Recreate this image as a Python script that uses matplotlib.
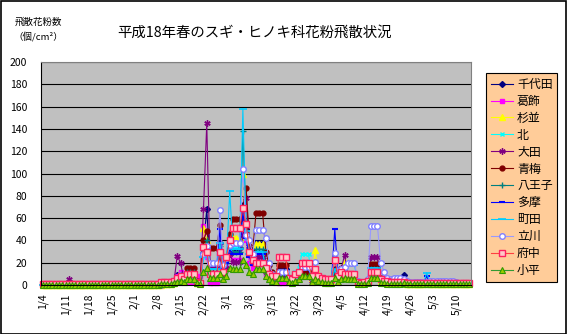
import matplotlib
matplotlib.use("Agg")
import matplotlib.pyplot as plt
from matplotlib.patches import Rectangle

plt.rcParams['font.family'] = ['Noto Sans CJK JP', 'DejaVu Sans']

# Daily airborne pollen counts (grains/cm2), 2006-01-04 .. 2006-05-14
tick_labels = ['1/4', '1/11', '1/18', '1/25', '2/1', '2/8', '2/15', '2/22', '3/1',
               '3/8', '3/15', '3/22', '3/29', '4/5', '4/12', '4/19', '4/26', '5/3', '5/10']

chiyoda = [0, 0, 0, 0, 0, 0, 0, 0, 0, 0, 0, 0, 0, 0, 0, 0, 0, 0, 0, 0, 0,
           0, 0, 0, 0, 0, 0, 0, 0, 0, 0, 0, 0, 0, 0,
           0, 0, 1, 1, 1, 3, 9,
           8, 4, 6, 6, 6, 3, 2,
           35, 68, 18, 18, 18, 38, 14,
           22, 40, 33, 33, 33, 72, 50,
           32, 24, 38, 38, 38, 20, 12,
           9, 6, 14, 14, 14, 6, 5,
           8, 10, 16, 16, 16, 7, 12,
           8, 6, 5, 5, 5, 14, 7,
           10, 10, 9, 9, 9, 3, 2,
           3, 4, 16, 16, 16, 5, 4,
           4, 3, 3, 3, 3, 9, 2,
           1, 1, 1, 1, 1, 2, 1,
           1, 1, 1, 1, 1, 1, 1,
           1, 1, 1, 1, 1]
katsushika = [0, 0, 0, 0, 0, 0, 0, 0, 0, 0, 0, 0, 0, 0, 0, 0, 0, 0, 0, 0, 0,
              0, 0, 0, 0, 0, 0, 0, 0, 0, 0, 0, 0, 0, 0,
              0, 1, 2, 2, 2, 4, 8,
              12, 5, 3, 3, 3, 2, 8,
              53, 25, 2, 2, 2, 20, 10,
              18, 30, 22, 22, 22, 45, 40,
              20, 15, 28, 28, 28, 10, 6,
              4, 3, 2, 2, 2, 3, 5,
              6, 8, 12, 12, 12, 3, 9,
              5, 4, 3, 3, 3, 10, 5,
              8, 9, 8, 8, 8, 2, 1,
              2, 3, 10, 10, 10, 3, 3,
              2, 2, 2, 2, 2, 3, 1,
              1, 1, 1, 1, 1, 1, 1,
              1, 1, 1, 1, 1, 1, 1,
              1, 1, 1, 1, 1]
suginami = [0, 0, 0, 0, 0, 0, 0, 0, 0, 0, 0, 0, 0, 0, 0, 0, 0, 0, 0, 0, 0,
            0, 0, 0, 0, 0, 0, 0, 0, 0, 0, 0, 0, 0, 0,
            0, 0, 1, 1, 1, 2, 5,
            8, 5, 5, 5, 5, 2, 3,
            51, 40, 14, 14, 14, 30, 16,
            25, 38, 42, 42, 42, 100, 45,
            30, 22, 37, 37, 37, 18, 10,
            8, 6, 12, 12, 12, 5, 4,
            9, 10, 15, 15, 15, 6, 31,
            10, 6, 4, 4, 4, 12, 6,
            12, 21, 9, 9, 9, 2, 2,
            2, 4, 13, 13, 13, 4, 3,
            3, 2, 2, 2, 2, 3, 1,
            1, 1, 1, 1, 1, 2, 1,
            1, 1, 1, 1, 1, 1, 1,
            1, 1, 1, 1, 1]
kita = [0, 0, 0, 0, 0, 0, 0, 0, 0, 0, 0, 0, 0, 0, 0, 0, 0, 0, 0, 0, 0,
        0, 0, 0, 0, 0, 0, 0, 0, 0, 0, 0, 0, 0, 0,
        0, 0, 1, 1, 1, 2, 6,
        10, 5, 6, 6, 6, 2, 3,
        25, 30, 12, 12, 12, 28, 12,
        20, 32, 35, 35, 35, 60, 42,
        28, 20, 30, 30, 30, 15, 8,
        7, 5, 10, 10, 10, 4, 4,
        12, 15, 28, 28, 28, 6, 12,
        7, 5, 4, 4, 4, 12, 6,
        10, 9, 8, 8, 8, 3, 2,
        2, 3, 12, 12, 12, 4, 3,
        3, 2, 2, 2, 2, 2, 1,
        1, 1, 1, 1, 1, 1, 1,
        1, 1, 1, 1, 1, 1, 1,
        1, 1, 1, 1, 1]
ota = [0, 0, 0, 0, 0, 0, 0, 0, 5, 0, 0, 0, 0, 0, 0, 0, 0, 0, 0, 0, 0,
       0, 0, 0, 0, 0, 0, 0, 0, 0, 0, 0, 0, 0, 0,
       0, 0, 1, 1, 1, 3, 26,
       20, 6, 5, 5, 5, 2, 3,
       68, 145, 16, 16, 16, 25, 10,
       15, 28, 21, 21, 21, 45, 78,
       35, 20, 25, 25, 25, 12, 8,
       6, 5, 8, 8, 8, 4, 3,
       6, 8, 10, 10, 10, 4, 10,
       6, 5, 4, 4, 4, 10, 12,
       15, 27, 8, 8, 8, 2, 1,
       2, 3, 25, 25, 25, 5, 4,
       3, 2, 2, 2, 2, 3, 1,
       1, 1, 1, 1, 1, 1, 1,
       1, 1, 1, 1, 1, 1, 1,
       1, 1, 1, 1, 1]
ome = [0, 0, 0, 0, 0, 0, 0, 0, 0, 0, 0, 0, 0, 0, 0, 0, 0, 0, 0, 1, 0,
       0, 0, 0, 0, 0, 0, 0, 0, 0, 0, 0, 0, 0, 0,
       0, 0, 1, 1, 1, 2, 5,
       8, 5, 15, 15, 15, 4, 3,
       40, 48, 33, 33, 33, 54, 20,
       25, 46, 59, 59, 59, 70, 87,
       40, 30, 65, 65, 65, 30, 18,
       12, 8, 18, 18, 18, 6, 4,
       5, 6, 12, 12, 12, 5, 8,
       5, 5, 5, 5, 5, 10, 6,
       8, 10, 8, 8, 8, 2, 2,
       3, 4, 19, 19, 19, 6, 4,
       3, 2, 2, 2, 2, 3, 1,
       1, 1, 1, 1, 1, 1, 1,
       1, 1, 1, 1, 1, 1, 1,
       1, 1, 1, 1, 1]
hachioji = [0, 0, 0, 0, 0, 0, 0, 0, 0, 0, 0, 0, 0, 0, 0, 0, 0, 0, 0, 0, 0,
            0, 0, 0, 0, 0, 0, 0, 0, 0, 0, 0, 0, 0, 0,
            0, 0, 1, 1, 1, 2, 6,
            9, 5, 12, 12, 12, 3, 3,
            30, 40, 20, 20, 20, 35, 16,
            20, 38, 30, 30, 30, 138, 55,
            30, 22, 32, 32, 32, 16, 10,
            8, 6, 12, 12, 12, 5, 4,
            8, 10, 20, 20, 20, 6, 10,
            7, 5, 4, 4, 4, 12, 6,
            10, 12, 10, 10, 10, 3, 2,
            2, 3, 14, 14, 14, 5, 3,
            3, 2, 2, 2, 2, 3, 1,
            1, 1, 1, 1, 1, 1, 1,
            1, 1, 1, 1, 1, 1, 1,
            1, 1, 1, 1, 1]
tama = [0, 0, 0, 0, 0, 0, 0, 0, 0, 0, 0, 0, 0, 0, 0, 0, 0, 0, 0, 0, 0,
        0, 0, 0, 0, 0, 0, 0, 0, 0, 0, 0, 0, 0, 0,
        0, 0, 1, 1, 1, 2, 5,
        7, 4, 6, 6, 6, 2, 2,
        28, 35, 10, 10, 10, 50, 14,
        20, 32, 28, 28, 28, 65, 42,
        25, 18, 28, 28, 28, 14, 9,
        7, 5, 9, 9, 9, 4, 3,
        7, 9, 14, 14, 14, 5, 10,
        7, 6, 4, 4, 4, 50, 8,
        9, 8, 9, 9, 9, 2, 2,
        2, 3, 12, 12, 12, 4, 3,
        3, 2, 2, 2, 2, 4, 1,
        1, 1, 1, 1, 1, 8, 1,
        1, 1, 1, 1, 1, 1, 1,
        1, 1, 1, 1, 1]
machida = [0, 0, 0, 0, 0, 0, 0, 0, 0, 0, 0, 0, 0, 0, 0, 0, 0, 0, 0, 0, 0,
           0, 0, 0, 0, 0, 0, 0, 0, 0, 0, 0, 0, 0, 0,
           0, 0, 1, 1, 1, 2, 4,
           6, 4, 8, 8, 8, 2, 2,
           25, 32, 14, 14, 14, 38, 12,
           22, 84, 32, 32, 32, 158, 48,
           28, 20, 30, 30, 30, 14, 9,
           7, 5, 10, 10, 10, 4, 3,
           8, 10, 18, 18, 18, 6, 9,
           6, 5, 4, 4, 4, 14, 6,
           10, 9, 18, 18, 18, 3, 2,
           2, 3, 15, 15, 15, 5, 3,
           3, 2, 2, 2, 2, 3, 1,
           1, 1, 1, 1, 1, 11, 2,
           1, 1, 1, 1, 1, 1, 1,
           1, 1, 1, 1, 1]
tachikawa = [0, 0, 0, 0, 0, 0, 0, 0, 0, 0, 0, 0, 0, 0, 0, 0, 0, 0, 0, 0, 0,
             0, 0, 0, 0, 0, 0, 0, 0, 0, 0, 0, 0, 0, 0,
             0, 0, 1, 1, 1, 2, 5,
             8, 4, 8, 8, 8, 3, 2,
             28, 35, 20, 20, 20, 67, 18,
             24, 36, 38, 38, 38, 104, 45,
             40, 28, 49, 49, 49, 42, 20,
             10, 7, 12, 12, 12, 5, 4,
             8, 10, 16, 16, 16, 6, 21,
             8, 6, 5, 5, 5, 29, 10,
             14, 16, 20, 20, 20, 4, 3,
             3, 5, 53, 53, 53, 20, 12,
             6, 5, 6, 6, 6, 5, 4,
             3, 3, 3, 3, 3, 3, 4,
             4, 4, 4, 4, 4, 4, 4,
             3, 2, 2, 2, 2]
fuchu = [1, 1, 1, 1, 1, 1, 1, 1, 1, 1, 1, 1, 1, 1, 1, 1, 1, 1, 1, 1, 1,
         1, 1, 1, 1, 1, 1, 1, 1, 1, 1, 1, 1, 1, 1,
         1, 3, 3, 3, 3, 4, 6,
         8, 5, 10, 10, 10, 3, 2,
         34, 30, 10, 10, 10, 30, 12,
         25, 40, 51, 51, 51, 69, 55,
         30, 22, 20, 20, 20, 15, 10,
         8, 8, 25, 25, 25, 6, 5,
         10, 12, 20, 20, 20, 8, 14,
         8, 6, 5, 5, 5, 22, 8,
         12, 10, 10, 10, 10, 3, 2,
         3, 4, 12, 12, 12, 5, 4,
         4, 3, 3, 3, 3, 3, 2,
         2, 2, 2, 2, 2, 2, 2,
         2, 2, 2, 2, 2, 2, 2,
         2, 2, 2, 2, 2]
kodaira = [0, 0, 0, 0, 0, 0, 0, 0, 0, 0, 0, 0, 0, 0, 0, 0, 0, 0, 0, 0, 0,
           0, 0, 0, 0, 0, 0, 0, 0, 0, 0, 0, 0, 0, 0,
           0, 1, 1, 1, 1, 2, 3,
           4, 3, 5, 5, 5, 2, 1,
           12, 15, 6, 6, 6, 10, 5,
           8, 15, 14, 14, 14, 22, 18,
           12, 10, 14, 14, 14, 8, 5,
           4, 3, 6, 6, 6, 3, 2,
           4, 5, 8, 8, 8, 3, 5,
           4, 3, 2, 2, 2, 6, 3,
           5, 6, 5, 5, 5, 1, 1,
           1, 2, 6, 6, 6, 2, 2,
           1, 1, 1, 1, 1, 2, 1,
           1, 1, 1, 1, 1, 1, 1,
           1, 1, 1, 1, 1, 1, 1,
           1, 1, 1, 1, 1]

series = [
    ('千代田', chiyoda,   dict(color='#000080', marker='D', ms=3, mfc='#000080', mec='#000080')),
    ('葛飾',   katsushika, dict(color='#FF00FF', marker='s', ms=3.5, mfc='#FF00FF', mec='#FF00FF')),
    ('杉並',   suginami,  dict(color='#FFFF00', marker='^', ms=4, mfc='#FFFF00', mec='#FFFF00')),
    ('北',     kita,      dict(color='#00FFFF', marker='x', ms=3.5, mew=1, mec='#00FFFF')),
    ('大田',   ota,       dict(color='#800080', marker=(6, 2, 0), ms=4.5, mew=1, mec='#800080')),
    ('青梅',   ome,       dict(color='#800000', marker='o', ms=3.5, mfc='#800000', mec='#800000')),
    ('八王子', hachioji,  dict(color='#008080', marker='+', ms=4, mew=1, mec='#008080')),
    ('多摩',   tama,      dict(color='#0000FF', marker='_', ms=4, mew=1.5, mec='#0000FF')),
    ('町田',   machida,   dict(color='#00CCFF', marker='_', ms=6, mew=1.2, mec='#00CCFF')),
    ('立川',   tachikawa, dict(color='#9999FF', marker='o', ms=4, mfc='white', mec='#8080FF', mew=1)),
    ('府中',   fuchu,     dict(color='#FF4040', marker='s', ms=4, mfc='#FFC8C8', mec='#FF2060', mew=1)),
    ('小平',   kodaira,   dict(color='#339933', marker='^', ms=4, mfc='#99CC00', mec='#339900', mew=0.8)),
]

W, H = 567, 334
fig = plt.figure(figsize=(W / 100, H / 100), dpi=100)
fig.patch.set_facecolor('white')
fig.patches.append(Rectangle((0.5 / W, 0.5 / H), 1 - 1.5 / W, 1 - 1.5 / H,
                             transform=fig.transFigure, fill=False,
                             edgecolor='black', linewidth=1.2))

ax = fig.add_axes([41 / W, 1 - 285 / H, 430 / W, 223 / H])
ax.set_facecolor('#C0C0C0')

n = len(chiyoda)
x = list(range(n))
for name, vals, style in series:
    ax.plot(x, vals, lw=0.8, label=name, clip_on=False, **style)

ax.set_xlim(-0.5, n - 0.5)
ax.set_ylim(0, 200)
ax.set_yticks(range(0, 201, 20))
ax.yaxis.grid(True, color='black', lw=0.8)
ax.set_axisbelow(True)
ax.tick_params(axis='y', labelsize=7.5, length=0, pad=10)
ax.set_xticks(range(0, n, 7))
ax.set_xticklabels(tick_labels, rotation=90, fontsize=7.5)
ax.tick_params(axis='x', length=0, pad=6)
for side in ['top', 'right']:
    ax.spines[side].set_color('#808080')
    ax.spines[side].set_linewidth(0.8)
for side in ['left', 'bottom']:
    ax.spines[side].set_color('black')
    ax.spines[side].set_linewidth(0.8)

fig.text(255 / W, 1 - 33 / H, '平成18年春のスギ・ヒノキ科花粉飛散状況',
         ha='center', va='center', fontsize=10.4)
fig.text(38 / W, 1 - 22 / H, '飛散花粉数', ha='center', va='center', fontsize=6.8)
fig.text(38 / W, 1 - 37 / H, '（個/cm²）', ha='center', va='center', fontsize=6.8,
         family=['Noto Sans CJK JP', 'DejaVu Sans'])

leg = ax.legend(loc='upper left', bbox_to_anchor=(486 / W, 1 - 73 / H),
                bbox_transform=fig.transFigure, fontsize=8.6, frameon=True,
                fancybox=False, framealpha=1, facecolor='#FFCC99',
                edgecolor='black', handlelength=1.9, handletextpad=0.3,
                labelspacing=0.33, borderpad=0.4, borderaxespad=0)
leg.get_frame().set_linewidth(0.8)

fig.savefig('out.png', dpi=100)
